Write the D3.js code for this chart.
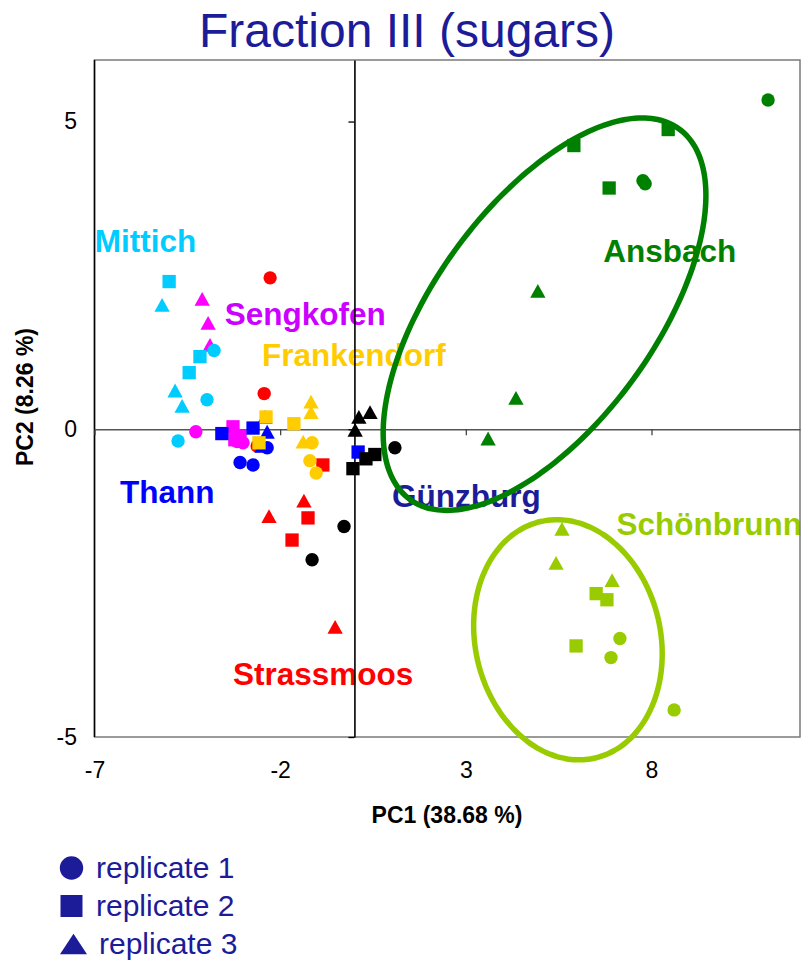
<!DOCTYPE html>
<html>
<head>
<meta charset="utf-8">
<script src="https://cdn.jsdelivr.net/npm/d3@7"></script>
<style>
  html, body { margin: 0; padding: 0; background: #fff; }
  svg { display: block; font-family: "Liberation Sans", Arial, sans-serif; }
</style>
</head>
<body>
<svg id="chart" width="801" height="961"></svg>
<script>
// ---------- data ----------
const sites = ["Sengkofen", "Mittich", "Strassmoos", "Thann", "Frankendorf", "Günzburg", "Ansbach", "Schönbrunn"];
const replicates = ["replicate 1", "replicate 2", "replicate 3"];

// PC1 / PC2 scores per site (3 samples each), one pair of arrays per replicate
const rep1PC1 = [[-4.27, -3.16, -3.00], [-3.78, -3.97, -4.75], [-2.27, -2.43, -2.62], [-3.08, -2.73, -2.35], [-1.14, -1.20, -1.03], [1.09, -0.28, -1.14], [11.14, 7.77, 7.83], [7.15, 6.91, 8.61]];
const rep1PC2 = [[-0.04, -0.20, -0.22], [1.28, 0.48, -0.19], [2.46, 0.58, -0.27], [-0.54, -0.58, -0.30], [-0.22, -0.51, -0.71], [-0.30, -1.58, -2.12], [5.35, 4.04, 3.99], [-3.40, -3.71, -4.56]];
const rep2PC1 = [[-3.27, -3.22, -3.08], [-4.99, -4.16, -4.45], [-0.85, -1.25, -1.68], [-3.57, -2.73, 0.10], [-2.38, -1.63, -2.57], [-0.04, 0.31, 0.55], [5.91, 6.86, 8.45], [6.51, 6.80, 5.97]];
const rep2PC2 = [[0.04, -0.17, -0.11], [2.40, 1.18, 0.92], [-0.58, -1.44, -1.80], [-0.07, 0.02, -0.37], [0.20, 0.09, -0.22], [-0.64, -0.48, -0.41], [4.61, 3.92, 4.87], [-2.67, -2.77, -3.52]];
const rep3PC1 = [[-4.10, -3.94, -3.89], [-5.18, -4.83, -4.64], [-1.36, -2.30, -0.52], [-2.35, -2.41, -2.49], [-1.17, -1.17, -1.38], [0.12, 0.42, 0.02], [4.94, 4.35, 3.60], [5.59, 5.43, 6.94]];
const rep3PC2 = [[2.12, 1.73, 1.37], [2.02, 0.63, 0.38], [-1.16, -1.41, -3.21], [-0.04, 0.20, -0.27], [0.45, 0.28, -0.20], [0.20, 0.28, -0.01], [2.25, 0.51, -0.15], [-1.62, -2.17, -2.45]];

const xTicks = [-7, -2, 3, 8];
const yTicks = [5, 0, -5];
const xDomain = [-7, 12];
const yDomain = [-5, 6];
const title = "Fraction III (sugars)";
const xTitle = "PC1 (38.68 %)";
const yTitle = "PC2 (8.26 %)";

// group label anchors (data units)
const labelPC1 = [-3.49, -6.99, -3.27, -6.31, -2.49, 1.01, 6.70, 7.06];
const labelPC2 = [1.70, 2.88, -4.15, -1.19, 1.03, -1.26, 2.71, -1.71];

// confidence ellipses (data units): centre and two conjugate semi-axis vectors
const ellipseSites = ["Ansbach", "Schönbrunn"];
const ellipseCentre = [[5.12, 1.87], [5.75, -3.42]];
const ellipseAxisU = [[3.625, 3.01], [-0.215, 1.95]];
const ellipseAxisV = [[2.397, -1.051], [2.53, -0.065]];

// ---------- styles ----------
const pointColors = ["#ff00ff", "#00ccff", "#ff0000", "#0000ff", "#ffcc00", "#000000", "#008000", "#99cc00"];
const labelColors = ["#cc00ff", "#00ccff", "#ff0000", "#0000ff", "#ffcc00", "#1c1c99", "#008000", "#99cc00"];
const navy = "#1c1c99";

// ---------- build ----------
const svg = d3.select("#chart");
const pLeft = 94.5, pRight = 800, pTop = 60, pBottom = 737;
const x = d3.scaleLinear().domain(xDomain).range([pLeft, pRight]);
const y = d3.scaleLinear().domain(yDomain).range([pBottom, pTop]);
const fmt = d => String(d);

// custom triangles centred on their bounding box
function triType(ratio) {
  return {
    draw(ctx, size) {
      const w = Math.sqrt(size * 2.3);
      const h = w * ratio;
      ctx.moveTo(0, -h / 2);
      ctx.lineTo(w / 2, h / 2);
      ctx.lineTo(-w / 2, h / 2);
      ctx.closePath();
    }
  };
}
const shapeTypes = [d3.symbolCircle, d3.symbolSquare, triType(0.9)];
const shapeSizes = [141, 177, 102];

// title
svg.append("text").attr("x", 407).attr("y", 47).attr("text-anchor", "middle")
  .attr("font-size", 48).attr("fill", navy).text(title);

// group labels (under axes)
svg.append("g").selectAll("text").data(sites).join("text")
  .attr("x", (d, i) => x(labelPC1[i])).attr("y", (d, i) => y(labelPC2[i]))
  .attr("font-size", 31.5).attr("font-weight", "bold")
  .attr("fill", (d, i) => labelColors[i]).text(d => d);

// frame
svg.append("rect").attr("x", pLeft).attr("y", pTop).attr("width", pRight - pLeft).attr("height", pBottom - pTop)
  .attr("fill", "none").attr("stroke", "#7a7a7a").attr("stroke-width", 1.5);
svg.append("line").attr("x1", pLeft).attr("x2", pLeft).attr("y1", pTop).attr("y2", pBottom)
  .attr("stroke", "#000").attr("stroke-width", 1.5);

// zero axes with ticks
const gx0 = svg.append("g").attr("transform", `translate(0,${y(0)})`)
  .call(d3.axisBottom(x).tickValues(xTicks).tickSize(6).tickSizeOuter(0).tickFormat(""));
gx0.select(".domain").attr("stroke", "#555").attr("stroke-width", 1.6);
gx0.selectAll(".tick line").attr("stroke", "#444").attr("stroke-width", 1.3);
const gy0 = svg.append("g").attr("transform", `translate(${x(0)},0)`)
  .call(d3.axisLeft(y).tickValues(yTicks).tickSize(6).tickSizeOuter(0).tickFormat(""));
gy0.select(".domain").attr("stroke", "#000").attr("stroke-width", 1.6);
gy0.selectAll(".tick line").attr("stroke", "#000").attr("stroke-width", 1.3);

// tick labels on frame edges
const gxl = svg.append("g").attr("transform", `translate(0,${pBottom})`)
  .call(d3.axisBottom(x).tickValues(xTicks).tickSize(0).tickPadding(24.5).tickFormat(fmt));
gxl.select(".domain").remove();
gxl.selectAll("text").attr("font-size", 23).attr("font-family", "Liberation Sans, Arial, sans-serif").attr("fill", "#000");
const gyl = svg.append("g").attr("transform", `translate(${pLeft},0)`)
  .call(d3.axisLeft(y).tickValues(yTicks).tickSize(0).tickPadding(17.5).tickFormat(fmt));
gyl.select(".domain").remove();
gyl.selectAll("text").attr("font-size", 23).attr("font-family", "Liberation Sans, Arial, sans-serif").attr("fill", "#000");

// axis titles
svg.append("text").attr("x", 447).attr("y", 823).attr("text-anchor", "middle")
  .attr("font-size", 23).attr("font-weight", "bold").text(xTitle);
svg.append("text").attr("transform", "translate(33,397) rotate(-90)").attr("text-anchor", "middle")
  .attr("font-size", 23).attr("font-weight", "bold").text(yTitle);

// ellipses
const angles = d3.range(0, 360, 3).map(a => a * Math.PI / 180);
const lineGen = d3.line().x(d => x(d[0])).y(d => y(d[1])).curve(d3.curveCardinalClosed);
ellipseSites.forEach((s, k) => {
  const c = ellipseCentre[k], u = ellipseAxisU[k], v = ellipseAxisV[k];
  const pts = angles.map(t => [
    c[0] + u[0] * Math.cos(t) + v[0] * Math.sin(t),
    c[1] + u[1] * Math.cos(t) + v[1] * Math.sin(t)
  ]);
  svg.append("path").attr("d", lineGen(pts)).attr("fill", "none")
    .attr("stroke", pointColors[sites.indexOf(s)]).attr("stroke-width", 5.5);
});

// points
const repPC1 = [rep1PC1, rep2PC1, rep3PC1];
const repPC2 = [rep1PC2, rep2PC2, rep3PC2];
const points = [];
sites.forEach((s, si) => {
  [0, 1, 2].forEach(r => {
    repPC1[r][si].forEach((v, j) => points.push({ site: si, rep: r, pc1: v, pc2: repPC2[r][si][j] }));
  });
});
svg.append("g").selectAll("path").data(points).join("path")
  .attr("transform", d => `translate(${x(d.pc1)},${y(d.pc2)})`)
  .attr("d", d => d3.symbol().type(shapeTypes[d.rep]).size(shapeSizes[d.rep])())
  .attr("fill", d => pointColors[d.site]);

// legend
const legendTypes = [d3.symbolCircle, d3.symbolSquare, triType(0.75)];
const legendSizes = [430, 484, 317];
const legend = svg.append("g").selectAll("g").data(replicates).join("g")
  .attr("transform", (d, i) => `translate(0,${868 + i * 38})`);
legend.append("path")
  .attr("transform", (d, i) => `translate(${i === 2 ? 73.5 : 71.5},${i === 2 ? 0 : 0})`)
  .attr("d", (d, i) => d3.symbol().type(legendTypes[i]).size(legendSizes[i])())
  .attr("fill", navy);
legend.append("text").attr("x", (d, i) => i === 2 ? 99 : 96).attr("y", 10)
  .attr("font-size", 30).attr("fill", navy).text(d => d);
</script>
</body>
</html>
